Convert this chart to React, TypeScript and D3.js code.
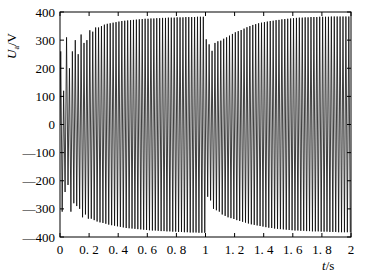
import React from "react";
import * as d3 from "d3";

// Peak values per 50 Hz cycle (V)
const posPeaks: number[] = [
  260, 120, 310, 200, 260, 300, 250, 320, 290, 300,
  335, 330, 345, 345, 350, 355, 358, 360, 362, 364,
  366, 368, 369, 370, 371, 372, 373, 374, 375, 376,
  376, 377, 377, 378, 378, 379, 379, 380, 380, 380,
  381, 381, 381, 382, 382, 382, 382, 383, 383, 383,
  303, 285, 262, 290, 296, 298, 305, 310, 316, 322,
  328, 332, 336, 341, 346, 350, 354, 357, 360, 362,
  364, 366, 368, 369, 371, 372, 374, 375, 376, 377,
  378, 379, 380, 380, 381, 381, 382, 382, 382, 383,
  383, 383, 383, 384, 384, 384, 384, 384, 384, 384,
];
const negPeaks: number[] = [
  -310, -240, -215, -310, -280, -290, -300, -330, -320, -335,
  -335, -340, -345, -348, -350, -353, -356, -358, -360, -362,
  -364, -366, -368, -369, -370, -371, -372, -373, -374, -375,
  -376, -377, -377, -378, -379, -379, -380, -380, -381, -381,
  -382, -382, -383, -383, -384, -384, -384, -385, -385, -385,
  -257, -270, -300, -305, -310, -320, -325, -330, -333, -336,
  -340, -343, -346, -349, -352, -355, -357, -359, -361, -363,
  -365, -367, -368, -370, -371, -372, -373, -374, -375, -376,
  -377, -377, -378, -378, -379, -379, -380, -380, -380, -381,
  -381, -381, -382, -382, -382, -383, -383, -383, -383, -383,
];
const cyclePeriod = 0.02; // s (50 Hz)

const xTicks: number[] = [0, 0.2, 0.4, 0.6, 0.8, 1, 1.2, 1.4, 1.6, 1.8, 2];
const xTickLabels: string[] = ["0", "0. 2", "0. 4", "0. 6", "0. 8", "1", "1. 2", "1. 4", "1. 6", "1. 8", "2"];
const yTicks: number[] = [400, 300, 200, 100, 0, -100, -200, -300, -400];
const yTickLabels: string[] = ["400", "300", "200", "100", "0", "—100", "—200", "—300", "—400"];

export default function App() {
  const W = 371, H = 278;
  const m = { left: 60, right: 351, top: 12, bottom: 237 };
  const x = d3.scaleLinear().domain([0, 2]).range([m.left, m.right]);
  const y = d3.scaleLinear().domain([-400, 400]).range([m.bottom, m.top]);

  const pts: [number, number][] = [[0, 0]];
  posPeaks.forEach((p, i) => {
    pts.push([i * cyclePeriod + cyclePeriod * 0.25, p]);
    pts.push([i * cyclePeriod + cyclePeriod * 0.75, negPeaks[i]]);
  });
  const line = d3.line<[number, number]>().x((d) => x(d[0])).y((d) => y(d[1]));

  const font = "'Liberation Serif', 'DejaVu Serif', serif";
  const tl = 4;

  return (
    <svg width={W} height={H} style={{ position: "absolute", left: 0, top: 0, background: "#fff" }} fontFamily={font}>
      <defs>
        <clipPath id="plot">
          <rect x={m.left} y={m.top} width={m.right - m.left} height={m.bottom - m.top} />
        </clipPath>
      </defs>
      <path d={line(pts) || ""} fill="none" stroke="#000" strokeWidth={0.75} clipPath="url(#plot)" />
      <rect x={m.left} y={m.top} width={m.right - m.left} height={m.bottom - m.top} fill="none" stroke="#000" strokeWidth={1} />
      {xTicks.map((t, i) => (
        <g key={"x" + i}>
          <line x1={x(t)} x2={x(t)} y1={m.bottom} y2={m.bottom - tl} stroke="#000" />
          <line x1={x(t)} x2={x(t)} y1={m.top} y2={m.top + tl} stroke="#000" />
          <text x={x(t)} y={254} fontSize={13} textAnchor="middle">{xTickLabels[i]}</text>
        </g>
      ))}
      {yTicks.map((v, i) => (
        <g key={"y" + i}>
          <line x1={m.left} x2={m.left + tl} y1={y(v)} y2={y(v)} stroke="#000" />
          <line x1={m.right} x2={m.right - tl} y1={y(v)} y2={y(v)} stroke="#000" />
          <text x={55} y={y(v) + 4.5} fontSize={13} textAnchor="end">{yTickLabels[i]}</text>
        </g>
      ))}
      <text x={322} y={270} fontSize={13}>
        <tspan fontStyle="italic">t</tspan>/s
      </text>
      <text transform={`translate(16, 46) rotate(-90)`} fontSize={13} textAnchor="middle">
        <tspan fontStyle="italic">U</tspan>
        <tspan fontSize={8} dy={3}>a</tspan>
        <tspan dy={-3}>/V</tspan>
      </text>
    </svg>
  );
}
